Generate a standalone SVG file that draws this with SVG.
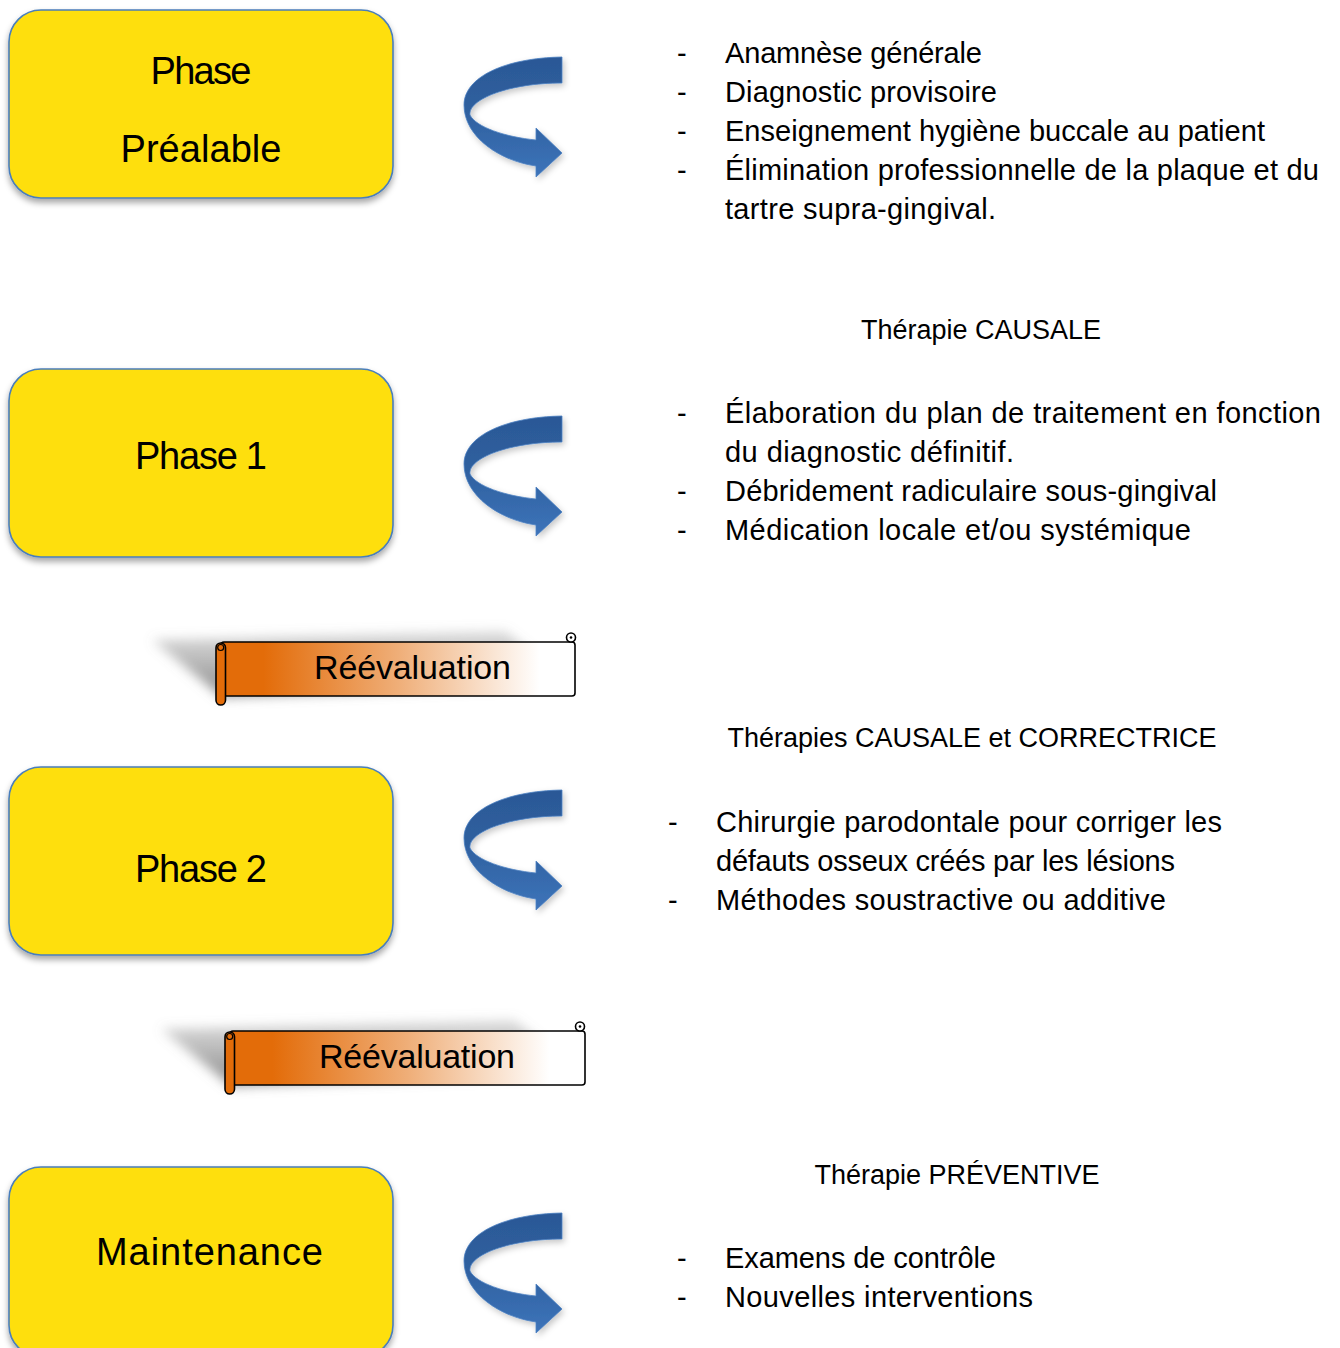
<svg xmlns="http://www.w3.org/2000/svg" width="1340" height="1348" viewBox="0 0 1340 1348">
<defs>
<style>
.box{fill:#FEDF0B;stroke:#4A7EBB;stroke-width:1.6;filter:url(#bshadow)}
.lbl{font-family:"Liberation Sans",Arial,sans-serif;font-size:38px;fill:#000;text-anchor:middle}
.t{font-family:"Liberation Sans",Arial,sans-serif;font-size:29px;fill:#000}
.ttl{text-anchor:middle;font-size:27px}
.arr{fill:url(#ag);stroke:#4B80C2;stroke-width:0.8;filter:url(#ashadow)}
.scr{fill:url(#og);stroke:#000;stroke-width:1.6}
.roll{fill:#E36C09;stroke:#000;stroke-width:1.6}
.rt{font-family:"Liberation Sans",Arial,sans-serif;font-size:34px;fill:#000;text-anchor:middle}
</style>
<filter id="bshadow" x="-10%" y="-10%" width="120%" height="130%">
<feDropShadow dx="0" dy="4" stdDeviation="3" flood-color="#000" flood-opacity="0.35"/>
</filter>
<filter id="ashadow" x="-20%" y="-20%" width="150%" height="150%">
<feDropShadow dx="2" dy="3" stdDeviation="3" flood-color="#000" flood-opacity="0.22"/>
</filter>
<filter id="sblur" x="-20%" y="-30%" width="140%" height="160%">
<feGaussianBlur stdDeviation="6"/>
</filter>
<linearGradient id="ag" x1="0" y1="0" x2="0" y2="1">
<stop offset="0" stop-color="#2B5896"/>
<stop offset="0.45" stop-color="#2F609F"/>
<stop offset="1" stop-color="#3D74BA"/>
</linearGradient>
<linearGradient id="og" x1="0" y1="0" x2="1" y2="0">
<stop offset="0" stop-color="#E36C09"/>
<stop offset="0.12" stop-color="#E36C09"/>
<stop offset="0.5" stop-color="#EFAE78"/>
<stop offset="0.9" stop-color="#FFFFFF"/>
<stop offset="1" stop-color="#FFFFFF"/>
</linearGradient>
<linearGradient id="sg" x1="0" y1="1" x2="0" y2="0">
<stop offset="0" stop-color="#7F7F7F" stop-opacity="0.9"/>
<stop offset="1" stop-color="#7F7F7F" stop-opacity="0.25"/>
</linearGradient>
<path id="arrow" d="M562,416 C505,417 464,436 464,464 C464,496 500,520 536,525 L536,536 L562,512 L536,487 L536,499 C505,496 476,486 470,474 C468,458 510,442 562,442 Z"/>
</defs>
<rect width="1340" height="1348" fill="#FFFFFF"/>

<g id="connectors">
<use href="#arrow" class="arr" transform="translate(0,-359)"/>
<use href="#arrow" class="arr"/>
<use href="#arrow" class="arr" transform="translate(0,374)"/>
<use href="#arrow" class="arr" transform="translate(0,797)"/>
</g>

<g id="node-prealable">
<rect class="box" x="9" y="10" width="384" height="188" rx="32"/>
<text class="lbl" x="201" y="84" textLength="101">Phase</text>
<text class="lbl" x="201" y="162" textLength="161">Préalable</text>
</g>
<g id="node-phase1">
<rect class="box" x="9" y="369" width="384" height="188" rx="32"/>
<text class="lbl" x="201" y="469" textLength="132">Phase 1</text>
</g>
<g id="node-phase2">
<rect class="box" x="9" y="767" width="384" height="188" rx="32"/>
<text class="lbl" x="201" y="882" textLength="132">Phase 2</text>
</g>
<g id="node-maintenance">
<rect class="box" x="9" y="1167" width="384" height="190" rx="32"/>
<text class="lbl" x="209.5" y="1265" textLength="227">Maintenance</text>
</g>

<g id="node-reevaluation1">
<polygon points="152,640 505,631 568,684 222,697" fill="url(#sg)" filter="url(#sblur)"/>
<rect class="scr" x="221" y="642" width="354" height="54" rx="3"/>
<circle cx="571" cy="637.5" r="4.5" fill="#FFFFFF" stroke="#000" stroke-width="1.6"/>
<circle cx="571" cy="637.5" r="1.3" fill="#000"/>
<rect class="roll" x="216" y="643" width="9.5" height="62" rx="4.7"/>
<circle cx="220.7" cy="647.5" r="3" fill="#E36C09" stroke="#000" stroke-width="1.2"/>
<text class="rt" x="412.5" y="679" textLength="197">Réévaluation</text>
</g>
<g id="node-reevaluation2">
<polygon points="161,1029 514,1020 577,1073 231,1086" fill="url(#sg)" filter="url(#sblur)"/>
<rect class="scr" x="230" y="1031" width="355" height="54" rx="3"/>
<circle cx="580" cy="1026.5" r="4.5" fill="#FFFFFF" stroke="#000" stroke-width="1.6"/>
<circle cx="580" cy="1026.5" r="1.3" fill="#000"/>
<rect class="roll" x="225" y="1032" width="9.5" height="62" rx="4.7"/>
<circle cx="229.7" cy="1036.5" r="3" fill="#E36C09" stroke="#000" stroke-width="1.2"/>
<text class="rt" x="417" y="1068" textLength="196">Réévaluation</text>
</g>

<g id="text-prealable">
<text class="t" x="677" y="63">-</text>
<text class="t" x="725" y="63" textLength="257">Anamnèse générale</text>
<text class="t" x="677" y="102">-</text>
<text class="t" x="725" y="102" textLength="272">Diagnostic provisoire</text>
<text class="t" x="677" y="141">-</text>
<text class="t" x="725" y="141" textLength="540">Enseignement hygiène buccale au patient</text>
<text class="t" x="677" y="180">-</text>
<text class="t" x="725" y="180" textLength="594">Élimination professionnelle de la plaque et du</text>
<text class="t" x="725" y="219" textLength="271">tartre supra-gingival.</text>
</g>

<g id="text-phase1">
<text class="t ttl" x="981" y="339">Thérapie CAUSALE</text>
<text class="t" x="677" y="423">-</text>
<text class="t" x="725" y="423" textLength="596">Élaboration du plan de traitement en fonction</text>
<text class="t" x="725" y="462" textLength="289">du diagnostic définitif.</text>
<text class="t" x="677" y="501">-</text>
<text class="t" x="725" y="501" textLength="492">Débridement radiculaire sous-gingival</text>
<text class="t" x="677" y="540">-</text>
<text class="t" x="725" y="540" textLength="466">Médication locale et/ou systémique</text>
</g>

<g id="text-phase2">
<text class="t ttl" x="972" y="747">Thérapies CAUSALE et CORRECTRICE</text>
<text class="t" x="668" y="832">-</text>
<text class="t" x="716" y="832" textLength="506">Chirurgie parodontale pour corriger les</text>
<text class="t" x="716" y="871" textLength="459">défauts osseux créés par les lésions</text>
<text class="t" x="668" y="910">-</text>
<text class="t" x="716" y="910" textLength="450">Méthodes soustractive ou additive</text>
</g>

<g id="text-maintenance">
<text class="t ttl" x="957" y="1184">Thérapie PRÉVENTIVE</text>
<text class="t" x="677" y="1268">-</text>
<text class="t" x="725" y="1268" textLength="271">Examens de contrôle</text>
<text class="t" x="677" y="1307">-</text>
<text class="t" x="725" y="1307" textLength="308">Nouvelles interventions</text>
</g>
</svg>
